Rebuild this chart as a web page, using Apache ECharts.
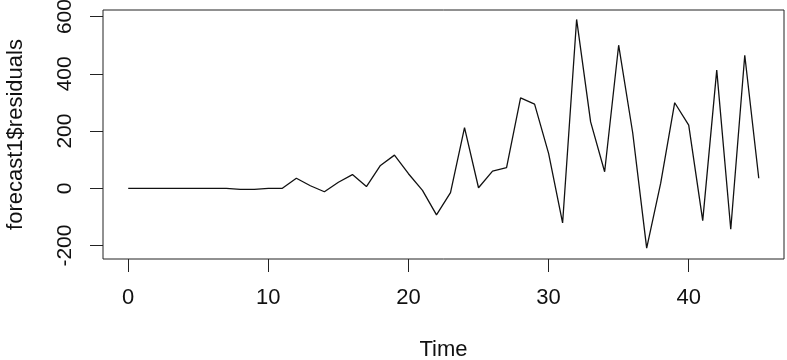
<!DOCTYPE html>
<html>
<head>
<meta charset="utf-8">
<script src="https://cdn.jsdelivr.net/npm/echarts@6/dist/echarts.min.js"></script>
<style>
html,body{margin:0;padding:0;background:#fff;}
#chart{width:787px;height:360px;}
</style>
</head>
<body>
<div id="chart"></div>
<script>
const timeValues = [0,1,2,3,4,5,6,7,8,9,10,11,12,13,14,15,16,17,18,19,20,21,22,23,24,25,26,27,28,29,30,31,32,33,34,35,36,37,38,39,40,41,42,43,44,45];
const residuals = [0,0,0,0,0,0,0,0,-4,-4,0,0,35,9,-12,21,48,6,80,116,51,-7,-93,-15,212,2,60,72,316,294,122,-121,590,232,58,500,195,-209,18,299,221,-113,413,-143,465,35];
const xTicks = [0,10,20,30,40];
const yTicks = [-200,0,200,400,600];
const xTitle = 'Time';
const yTitle = 'forecast1$residuals';

const seriesData = timeValues.map((t, i) => [t, residuals[i]]);
const font = 'Liberation Sans, Arial, sans-serif';

const chart = echarts.init(document.getElementById('chart'), null, {renderer: 'canvas'});
chart.setOption({
  animation: false,
  backgroundColor: '#ffffff',
  grid: {left: 103, right: 3, top: 10, bottom: 101, containLabel: false, outerBoundsMode: 'none',
         show: true, borderColor: '#222', borderWidth: 1, backgroundColor: 'transparent'},
  xAxis: {
    type: 'value', min: -1.8, max: 46.8,
    name: xTitle, nameLocation: 'middle', nameGap: 80,
    nameTextStyle: {fontFamily: font, fontSize: 22, color: '#111'},
    axisLine: {show: false, onZero: false},
    splitLine: {show: false},
    axisTick: {show: true, inside: false, length: 13, customValues: xTicks, lineStyle: {color: '#222', width: 1}},
    axisLabel: {customValues: xTicks, fontFamily: font, fontSize: 22, color: '#111', margin: 28}
  },
  yAxis: {
    type: 'value', min: -247, max: 623,
    name: yTitle, nameLocation: 'middle', nameGap: 76,
    nameTextStyle: {fontFamily: font, fontSize: 22, color: '#111'},
    axisLine: {show: false, onZero: false},
    splitLine: {show: false},
    axisTick: {show: true, inside: false, length: 13, customValues: yTicks, lineStyle: {color: '#222', width: 1}},
    axisLabel: {customValues: yTicks, rotate: 90, fontFamily: font, fontSize: 21, color: '#111', margin: 27}
  },
  series: [{
    type: 'line', data: seriesData, showSymbol: false, symbol: 'none',
    lineStyle: {color: '#111', width: 1.3}
  }]
});
</script>
</body>
</html>
